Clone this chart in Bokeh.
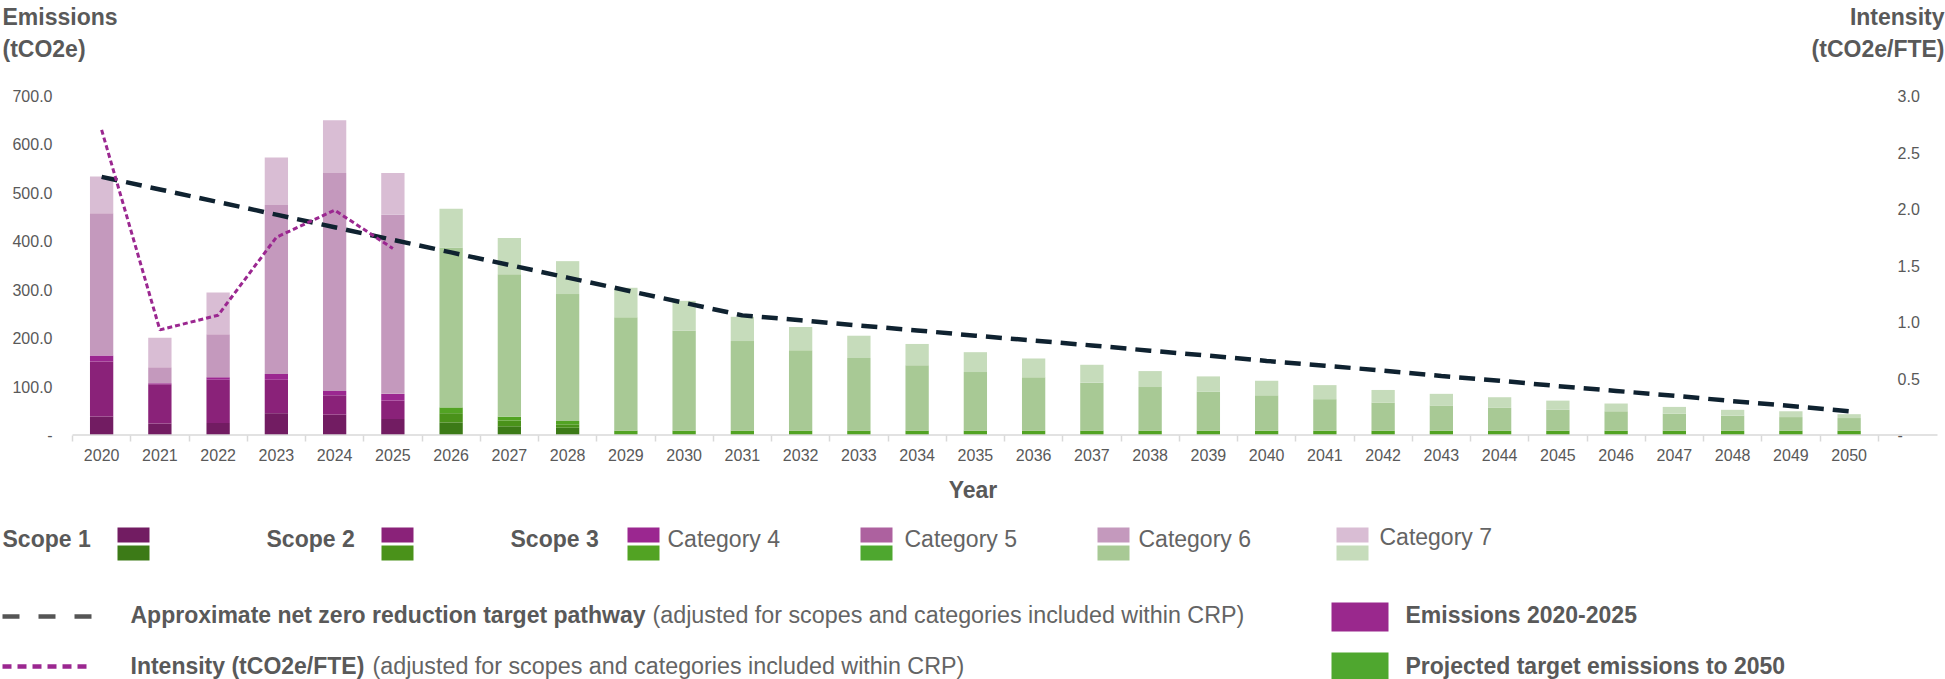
from bokeh.plotting import figure
from bokeh.models import Range1d, LinearAxis, FixedTicker, ColumnDataSource
from bokeh.embed import file_html
from bokeh.resources import INLINE
from bokeh.core.properties import value

# ---------------- data ----------------
years = [2020, 2021, 2022, 2023, 2024, 2025, 2026, 2027, 2028, 2029, 2030,
         2031, 2032, 2033, 2034, 2035, 2036, 2037, 2038, 2039, 2040,
         2041, 2042, 2043, 2044, 2045, 2046, 2047, 2048, 2049, 2050]
year_labels = [str(y) for y in years]

scope1 = [38, 24, 25, 45, 42, 33, 26, 18, 15, 0, 0,
          0, 0, 0, 0, 0, 0, 0, 0, 0, 0,
          0, 0, 0, 0, 0, 0, 0, 0, 0, 0]
scope2 = [114, 81, 89, 69, 40, 38, 19, 12, 7, 0, 0,
          0, 0, 0, 0, 0, 0, 0, 0, 0, 0,
          0, 0, 0, 0, 0, 0, 0, 0, 0, 0]
cat4 = [12, 2, 5, 12, 9, 14, 12, 8, 7, 9, 9,
        9, 9, 9, 9, 9, 9, 9, 9, 9, 9,
        9, 9, 9, 9, 9, 9, 9, 9, 9, 9]
cat5 = [0, 0, 0, 0, 0, 0, 0, 0, 0, 0, 0,
        0, 0, 0, 0, 0, 0, 0, 0, 0, 0,
        0, 0, 0, 0, 0, 0, 0, 0, 0, 0]
cat6 = [294, 33, 89, 349, 450, 370, 330, 294, 262, 234, 207,
        185, 166, 150, 135, 121, 110, 99, 90, 81, 73,
        65, 58, 52, 47, 43, 40, 35, 31, 28, 26]
cat7 = [76, 61, 86, 98, 109, 86, 80, 75, 68, 61, 61,
        50, 48, 46, 44, 41, 39, 37, 33, 31, 30,
        29, 26, 24, 22, 19, 16, 14, 12, 12, 8]

target = [533, 507, 481, 455, 429, 403, 377, 351, 325, 299, 273,
          247, 237, 226, 216, 205, 195, 185, 174, 164, 153,
          143, 133, 122, 112, 101, 91, 81, 70, 60, 49]

intensity_years = [2020, 2021, 2022, 2023, 2024, 2025]
intensity = [2.70, 0.93, 1.06, 1.75, 1.99, 1.65]

left_ticks = [0, 100, 200, 300, 400, 500, 600, 700]
left_labels = ["-", "100.0", "200.0", "300.0", "400.0", "500.0", "600.0", "700.0"]
right_ticks = [0, 0.5, 1.0, 1.5, 2.0, 2.5, 3.0]
right_labels = ["-", "0.5", "1.0", "1.5", "2.0", "2.5", "3.0"]

series_names = ["Scope 1", "Scope 2", "Category 4", "Category 5", "Category 6", "Category 7"]
past_colors = ["#721c62", "#8a2279", "#9b2790", "#ad619f", "#c499bd", "#d9bdd4"]
proj_colors = ["#3c7a17", "#4a921a", "#52a323", "#4ea72f", "#a8c995", "#c6dcbb"]

FONT = "Liberation Sans"
TXT = "#595959"
TXT2 = "#646464"

# ---------------- geometry (page pixels) ----------------
W, H = 1945, 679
X_LEFT_PX = 72.0        # page x of the left edge of the first category
CAT_PX = 58.25          # width of one year slot
Y0_PX = 434.5           # page y of value 0
PLOT_H_PX = 339.0       # page px from 0 to axis maximum
EMAX, IMAX = 700.0, 3.0

x_start = years[0] - 0.5 - X_LEFT_PX / CAT_PX
x_end = x_start + W / CAT_PX
e_ppu = PLOT_H_PX / EMAX
i_ppu = PLOT_H_PX / IMAX

p = figure(width=W, height=H,
           x_range=Range1d(x_start, x_end),
           y_range=Range1d(-(H - Y0_PX) / e_ppu, Y0_PX / e_ppu),
           x_axis_type=None, y_axis_type=None,
           output_backend="svg", toolbar_location=None,
           min_border_left=0, min_border_right=0, min_border_top=0, min_border_bottom=0)
p.extra_y_ranges = {"int": Range1d(-(H - Y0_PX) / i_ppu, Y0_PX / i_ppu),
                    "py": Range1d(H, 0)}
p.extra_x_ranges = {"px": Range1d(0, W)}
p.grid.visible = False
p.outline_line_color = None
p.background_fill_color = "white"

# ---------------- bars ----------------
series = [scope1, scope2, cat4, cat5, cat6, cat7]
bottom = [0] * len(years)
for vals, pc, gc in zip(series, past_colors, proj_colors):
    top = [b + v for b, v in zip(bottom, vals)]
    colors = [pc if y <= 2025 else gc for y in years]
    src = ColumnDataSource(dict(x=years, bottom=bottom, top=top, color=colors))
    p.vbar(x="x", bottom="bottom", top="top", width=0.4,
           fill_color="color", line_color=None, source=src)
    bottom = top

# baseline of the category axis
p.segment(x0=[72], y0=[Y0_PX], x1=[1937], y1=[Y0_PX], x_range_name="px", y_range_name="py",
          line_color="#d9d9d9", line_width=1.5)

p.line(years, target, line_color="#0f2230", line_width=4.5, line_dash="16 9")
p.line(intensity_years, intensity, y_range_name="int",
       line_color="#9b2790", line_width=3, line_dash="5 3")

# ---------------- axes ----------------
xa = LinearAxis(fixed_location=0,
                ticker=FixedTicker(ticks=years,
                                   minor_ticks=[y - 0.5 for y in years] + [years[-1] + 0.5]),
                major_label_overrides=dict(zip(years, year_labels)),
                axis_line_color=None, major_tick_out=0, major_tick_in=0,
                minor_tick_out=6, minor_tick_in=0,
                minor_tick_line_color="#d9d9d9", minor_tick_line_width=1.5,
                major_label_text_font=FONT, major_label_text_font_size="16px",
                major_label_text_color=TXT, major_label_standoff=8,
                axis_label="Year", axis_label_text_font=FONT,
                axis_label_text_font_style="bold", axis_label_text_font_size="23px",
                axis_label_text_color=TXT, axis_label_standoff=12)
p.add_layout(xa, "below")

ya = LinearAxis(fixed_location=years[0] - 0.5, ticker=FixedTicker(ticks=left_ticks),
                major_label_overrides=dict(zip(left_ticks, left_labels)),
                axis_line_color=None, major_tick_line_color=None,
                minor_tick_line_color=None, major_tick_out=0,
                major_label_standoff=20, major_label_text_font=FONT,
                major_label_text_font_size="16px", major_label_text_color=TXT)
p.add_layout(ya, "left")

ra = LinearAxis(y_range_name="int", fixed_location=2050.54,
                ticker=FixedTicker(ticks=right_ticks),
                major_label_overrides=dict(zip(right_ticks, right_labels)),
                axis_line_color=None, major_tick_line_color=None,
                minor_tick_line_color=None, major_tick_out=0,
                major_label_standoff=17, major_label_text_font=FONT,
                major_label_text_font_size="16px", major_label_text_color=TXT)
p.add_layout(ra, "right")

# ---------------- axis titles ----------------
p.text(x=[2, 2], y=[16, 48], text=["Emissions", "(tCO2e)"],
       x_range_name="px", y_range_name="py",
       text_font=value(FONT), text_font_style="bold", text_font_size="23px",
       text_color=TXT, text_baseline="middle", text_align="left")
p.text(x=[1944, 1944], y=[16, 48], text=["Intensity", "(tCO2e/FTE)"],
       x_range_name="px", y_range_name="py",
       text_font=value(FONT), text_font_style="bold", text_font_size="23px",
       text_color=TXT, text_baseline="middle", text_align="right")

# ---------------- legend ----------------
sw_left = [117, 381, 627, 860, 1097, 1336]
p.quad(left=sw_left, right=[v + 32 for v in sw_left], top=[527] * 6, bottom=[542] * 6,
       x_range_name="px", y_range_name="py", fill_color=past_colors, line_color=None)
p.quad(left=sw_left, right=[v + 32 for v in sw_left], top=[545] * 6, bottom=[560] * 6,
       x_range_name="px", y_range_name="py", fill_color=proj_colors, line_color=None)

p.text(x=[2, 266, 510], y=[538.5, 538.5, 538.5], text=["Scope 1", "Scope 2", "Scope 3"],
       x_range_name="px", y_range_name="py",
       text_font=value(FONT), text_font_style="bold", text_font_size="23px",
       text_color=TXT, text_baseline="middle")
p.text(x=[667, 904, 1138, 1379], y=[538.5, 538.5, 538.5, 536], text=series_names[2:],
       x_range_name="px", y_range_name="py",
       text_font=value(FONT), text_font_size="23px",
       text_color=TXT2, text_baseline="middle")

p.line([2, 92], [616, 616], x_range_name="px", y_range_name="py",
       line_color="#555555", line_width=4.5, line_dash="17 19")
p.line([2, 92], [666, 666], x_range_name="px", y_range_name="py",
       line_color="#9b2790", line_width=4.5, line_dash="9 6")

p.text(x=[130, 130], y=[614.5, 665],
       text=["Approximate net zero reduction target pathway", "Intensity (tCO2e/FTE)"],
       x_range_name="px", y_range_name="py",
       text_font=value(FONT), text_font_style="bold", text_font_size="23px",
       text_color=TXT, text_baseline="middle")
p.text(x=[652, 372], y=[614.5, 665],
       text=["(adjusted for scopes and categories included within CRP)",
             "(adjusted for scopes and categories included within CRP)"],
       x_range_name="px", y_range_name="py",
       text_font=value(FONT), text_font_size="23.3px",
       text_color=TXT2, text_baseline="middle")

p.quad(left=[1331, 1331], right=[1388, 1388], top=[602, 652], bottom=[631, 679],
       x_range_name="px", y_range_name="py",
       fill_color=["#9a288d", "#4fa72f"], line_color=None)
p.text(x=[1405, 1405], y=[614.5, 665],
       text=["Emissions 2020-2025", "Projected target emissions to 2050"],
       x_range_name="px", y_range_name="py",
       text_font=value(FONT), text_font_style="bold", text_font_size="23px",
       text_color=TXT, text_baseline="middle")

open("out.html", "w").write(file_html(p, INLINE))
